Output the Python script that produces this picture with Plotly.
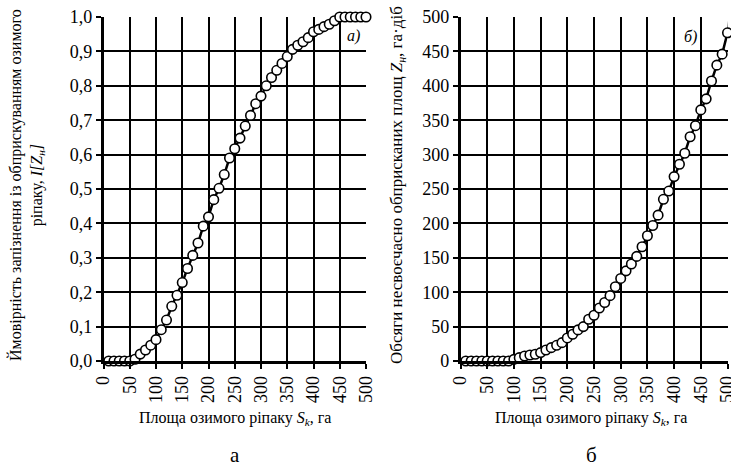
import plotly.graph_objects as go

# Data
area_a = [10, 20, 30, 40, 50, 60, 70, 80, 90, 100, 110, 120, 130, 140, 150, 160, 170, 180, 190, 200,
          210, 220, 230, 240, 250, 260, 270, 280, 290, 300, 310, 320, 330, 340, 350, 360, 370, 380, 390, 400,
          410, 420, 430, 440, 450, 460, 470, 480, 490, 500]
prob_a = [0, 0, 0, 0, 0, 0.005, 0.02, 0.032, 0.046, 0.062, 0.091, 0.119, 0.159, 0.191, 0.228, 0.269, 0.307, 0.343, 0.392, 0.419,
          0.469, 0.502, 0.542, 0.590, 0.617, 0.648, 0.683, 0.714, 0.748, 0.770, 0.800, 0.824, 0.845, 0.865, 0.885, 0.906, 0.918, 0.928, 0.940, 0.957,
          0.964, 0.972, 0.979, 0.989, 1.0, 1.0, 1.0, 1.0, 1.0, 1.0]

area_b = [10, 20, 30, 40, 50, 60, 70, 80, 90, 100, 110, 120, 130, 140, 150, 160, 170, 180, 190, 200,
          210, 220, 230, 240, 250, 260, 270, 280, 290, 300, 310, 320, 330, 340, 350, 360, 370, 380, 390, 400,
          410, 420, 430, 440, 450, 460, 470, 480, 490, 500, 510]
vol_b = [0, 0, 0, 0, 0, 0, 0, 0, 0, 2.4, 4.9, 7.3, 8.7, 9.8, 12.2, 16, 19.4, 22.8, 26.7, 33.5,
         38.9, 45.2, 50, 60.7, 66.5, 77, 85, 95, 108, 120, 131, 141, 152, 166, 182, 197, 212, 235, 247, 268,
         286, 302, 326, 342, 365, 381, 407, 430, 446, 477, 530]

x_ticks = list(range(0, 501, 50))
ya_ticks = [i / 10 for i in range(11)]
ya_labels = ["0,0", "0,1", "0,2", "0,3", "0,4", "0,5", "0,6", "0,7", "0,8", "0,9", "1,0"]
yb_ticks = list(range(0, 501, 50))

FONT = "Liberation Serif, Times New Roman, serif"
W, H = 731, 468

fig = go.Figure()

marker_style = dict(symbol="circle", size=9.5, color="white", line=dict(color="black", width=1.6))

fig.add_trace(go.Scatter(x=area_a, y=prob_a, mode="lines+markers", line=dict(color="black", width=2.5),
                         marker=marker_style, cliponaxis=False, xaxis="x", yaxis="y", showlegend=False))

fig.add_trace(go.Scatter(x=area_b, y=vol_b, mode="lines", line=dict(color="black", width=2.5),
                         cliponaxis=True, xaxis="x2", yaxis="y2", showlegend=False))
fig.add_trace(go.Scatter(x=area_b[:-1], y=vol_b[:-1], mode="markers",
                         marker=marker_style, cliponaxis=False, xaxis="x2", yaxis="y2", showlegend=False))

def px_x(p):
    return p / W

def px_y(p):
    return 1 - p / H

ydom = [px_y(361), px_y(17)]
common_x = dict(range=[0, 500], tickvals=x_ticks, ticktext=[str(v) for v in x_ticks], tickangle=-90,
                showgrid=True, gridcolor="black", gridwidth=1.5, zeroline=False,
                showline=True, linecolor="black", linewidth=2.5, automargin=False,
                ticklabeloverflow="allow",
                ticks="outside", ticklen=5, tickwidth=2, tickcolor="black",
                tickfont=dict(family=FONT, size=18, color="black"), fixedrange=True)
common_y = dict(showgrid=True, gridcolor="black", gridwidth=1.5, zeroline=False,
                showline=True, linecolor="black", linewidth=2.5, automargin=False,
                ticklabeloverflow="allow",
                ticks="outside", ticklen=5, tickwidth=2, tickcolor="black",
                tickfont=dict(family=FONT, size=18, color="black"), fixedrange=True, domain=ydom)

fig.update_layout(
    width=W, height=H,
    margin=dict(l=0, r=0, t=0, b=0, autoexpand=False),
    paper_bgcolor="white", plot_bgcolor="white",
    font=dict(family=FONT, color="black"),
    xaxis=dict(domain=[px_x(103.5), px_x(366)], anchor="y", **common_x),
    yaxis=dict(range=[0, 1], tickvals=ya_ticks, ticktext=ya_labels, anchor="x", **common_y),
    xaxis2=dict(domain=[px_x(460.5), px_x(727.5)], anchor="y2", **common_x),
    yaxis2=dict(range=[0, 500], tickvals=yb_ticks, ticktext=[str(v) for v in yb_ticks], anchor="x2", **common_y),
)

def note(text, x, y, size, angle=0):
    return dict(text=text, x=px_x(x), y=px_y(y), xref="paper", yref="paper", showarrow=False,
                xanchor="center", yanchor="middle", textangle=angle, font=dict(family=FONT, size=size))

ann = [
    note("Площа озимого ріпаку <i>S<sub>k</sub></i>, га", 235, 418, 16),
    note("Площа озимого ріпаку <i>S<sub>k</sub></i>, га", 591, 418, 16),
    note("Ймовірність запізнення із обприскуванням озимого<br>ріпаку, <i>I[Z<sub>н</sub>]</i>", 27, 185, 16, -90),
    note("Обсяги несвоєчасно обприсканих площ <i>Z<sub>н</sub></i>, га·діб", 398, 185, 17, -90),
    note("<i>а)</i>", 353, 36, 16),
    note("<i>б)</i>", 690, 37, 16),
    note("а", 235, 455, 21),
    note("б", 591, 455, 21),
]
fig.update_layout(annotations=ann)

fig.write_html("out.html", config={"displayModeBar": False},
               post_script="document.body.style.margin='0';document.body.style.overflow='hidden';")
